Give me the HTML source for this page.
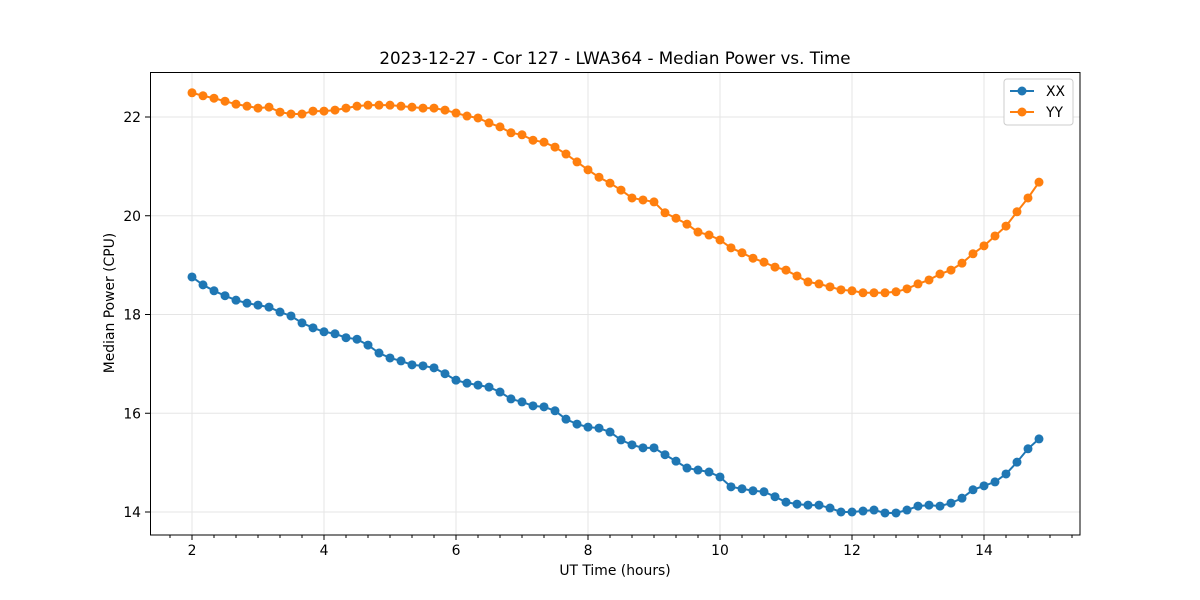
<!DOCTYPE html>
<html><head><meta charset="utf-8"><style>
body{margin:0;background:#fff;}
svg{display:block;font-family:"DejaVu Sans","Liberation Sans",sans-serif;}
</style></head><body>
<svg id="chart" width="1200" height="600" viewBox="0 0 1200 600" xmlns="http://www.w3.org/2000/svg">
<rect width="1200" height="600" fill="#fff"/>
<text x="615" y="64" font-size="16.7" text-anchor="middle" fill="#000">2023-12-27 - Cor 127 - LWA364 - Median Power vs. Time</text>
<g id="grid"></g>
<g id="series"></g>
<rect x="150.5" y="72.5" width="929.5" height="462.5" fill="none" stroke="#000" stroke-width="1"/>
<g id="axes"></g>
<text x="615" y="575" font-size="13.9" text-anchor="middle">UT Time (hours)</text>
<text transform="translate(114,303) rotate(-90)" font-size="13.9" text-anchor="middle">Median Power (CPU)</text>
<g>
<rect x="1004" y="79" width="69" height="46" rx="3" fill="#fff" stroke="#ccc"/>
<g>
<line x1="1010" y1="91" x2="1034" y2="91" stroke="#1f77b4" stroke-width="2"/><circle cx="1022" cy="91" r="4.5" fill="#1f77b4"/>
<text x="1046" y="96" font-size="13.9">XX</text></g>
<g>
<line x1="1010" y1="112" x2="1034" y2="112" stroke="#ff7f0e" stroke-width="2"/><circle cx="1022" cy="112" r="4.5" fill="#ff7f0e"/>
<text x="1046" y="117" font-size="13.9">YY</text></g>
</g>
</svg>
<script>
const xTicks=[2,4,6,8,10,12,14];
const yTicks=[14,16,18,20,22];
const tStart=2, tStepMin=10;
const xxValues=[18.76,18.60,18.48,18.38,18.29,18.23,18.19,18.15,18.05,17.97,17.83,17.73,17.65,17.61,17.53,17.50,17.38,17.22,17.12,17.06,16.98,16.96,16.92,16.80,16.67,16.61,16.57,16.53,16.43,16.29,16.23,16.15,16.13,16.05,15.88,15.78,15.72,15.70,15.62,15.46,15.36,15.30,15.30,15.16,15.03,14.89,14.85,14.81,14.71,14.51,14.47,14.43,14.41,14.31,14.20,14.16,14.14,14.14,14.08,14.00,14.00,14.02,14.04,13.98,13.98,14.04,14.12,14.14,14.12,14.18,14.28,14.45,14.53,14.61,14.77,15.01,15.28,15.48];
const yyValues=[22.49,22.43,22.38,22.32,22.26,22.22,22.18,22.20,22.10,22.06,22.06,22.12,22.12,22.14,22.18,22.22,22.24,22.24,22.24,22.22,22.20,22.18,22.18,22.14,22.08,22.02,21.98,21.88,21.80,21.68,21.64,21.53,21.49,21.39,21.25,21.09,20.93,20.78,20.66,20.52,20.36,20.32,20.28,20.06,19.95,19.83,19.67,19.61,19.51,19.35,19.25,19.14,19.06,18.96,18.90,18.78,18.66,18.62,18.56,18.50,18.48,18.44,18.44,18.44,18.46,18.52,18.62,18.70,18.82,18.90,19.04,19.23,19.39,19.59,19.79,20.08,20.36,20.68];
const NS="http://www.w3.org/2000/svg";
const X=v=>192+(v-2)*66;
const Y=v=>117+(22-v)*49.375;
function mk(tag,attrs,parent){const e=document.createElementNS(NS,tag);for(const k in attrs)e.setAttribute(k,attrs[k]);parent.appendChild(e);return e;}
const grid=document.getElementById('grid'),axes=document.getElementById('axes'),series=document.getElementById('series');
xTicks.forEach(t=>{
 const g=mk('line',{x1:X(t),x2:X(t),y1:72,y2:535,stroke:'#e5e5e5','stroke-width':1},grid);
 
 
 mk('line',{x1:X(t),x2:X(t),y1:535,y2:540,stroke:'#000'},axes);
 const l=mk('text',{x:X(t),y:555,'font-size':13.9,'text-anchor':'middle'},axes);l.textContent=t;
 
 
});
for(let m=5;m<=46;m++){const t=m/3;if(m%6===0)continue;if(X(t)<150||X(t)>1080)continue;mk('line',{x1:X(t),x2:X(t),y1:535,y2:538,stroke:'#000'},axes);}
yTicks.forEach(t=>{
 const g=mk('line',{x1:150,x2:1080,y1:Y(t),y2:Y(t),stroke:'#e5e5e5','stroke-width':1},grid);
 
 
 mk('line',{x1:145,x2:150,y1:Y(t),y2:Y(t),stroke:'#000'},axes);
 const l=mk('text',{x:141,y:Y(t)+5,'font-size':13.9,'text-anchor':'end'},axes);l.textContent=t;
 
 
});
function drawSeries(vals,color,name){
 const g=mk('g',{},series);
 
 
 const pts=vals.map((v,i)=>X(tStart+i*tStepMin/60)+','+Y(v)).join(' ');
 mk('polyline',{points:pts,fill:'none',stroke:color,'stroke-width':2},g);
 vals.forEach((v,i)=>{const c=mk('circle',{cx:X(tStart+i*tStepMin/60),cy:Y(v),r:4.5,fill:color},g);
  
  });
}
drawSeries(xxValues,'#1f77b4','series-xx');
drawSeries(yyValues,'#ff7f0e','series-yy');
</script>
</body></html>
